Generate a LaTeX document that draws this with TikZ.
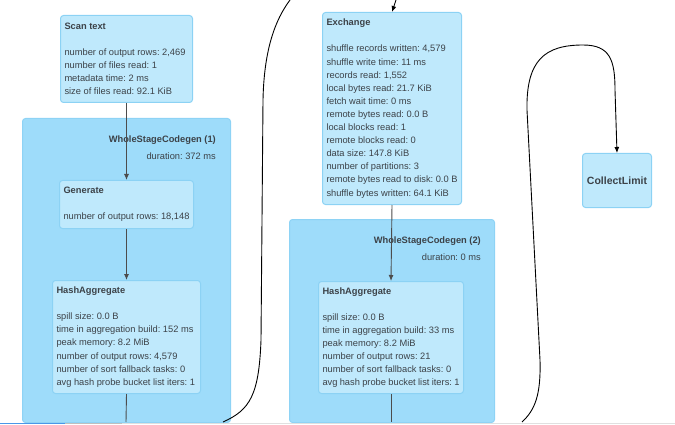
\documentclass[tikz,border=0pt]{standalone}
\usepackage{fontspec}
\setmainfont{Liberation Sans}
\frenchspacing
\usetikzlibrary{arrows.meta}
\definecolor{cgfill}{HTML}{9EDCFA}
\definecolor{cgline}{HTML}{8ED3F5}
\definecolor{opfill}{HTML}{BFE9FC}
\definecolor{opline}{HTML}{8CD2F4}
\definecolor{txt}{HTML}{3C4248}
\definecolor{scroll}{HTML}{4A97E8}
\tikzset{
  codegen/.style={draw=cgline, fill=cgfill, line width=1pt, rounded corners=3pt, anchor=north west, inner sep=0pt},
  opbox/.style={draw=opline, fill=opfill, line width=1pt, rounded corners=3pt, anchor=north west, align=flush left,
    inner xsep=4pt, inner ysep=0pt, text=txt, font=\fontsize{9.3}{13.1}\selectfont\frenchspacing},
  cglabel/.style={anchor=north east, align=flush right, inner sep=0pt, text=txt, font=\fontsize{9.3}{13.1}\selectfont\frenchspacing},
  flow/.style={draw=black!70, line width=0.9pt},
  curve/.style={draw=black, line width=0.9pt},
}
\begin{document}
\begin{tikzpicture}[x=1pt,y=-1pt,>={Latex[length=6pt,width=5pt]}]
    \useasboundingbox (0,0) rectangle (675,425);
    % stage boxes
    \node[codegen, minimum width=208pt, minimum height=304pt] (cg1) at (22,118) {};
    \node[codegen, minimum width=205pt, minimum height=203pt] (cg2) at (289,219) {};
    \node[cglabel] (cg1lab) at ([xshift=-15pt,yshift=-17.5pt]cg1.north east)
        {\textbf{WholeStageCodegen (1)}\\[4pt]duration: 372 ms};
    \node[cglabel] (cg2lab) at ([xshift=-14pt,yshift=-17.5pt]cg2.north east)
        {\textbf{WholeStageCodegen (2)}\\[4pt]duration: 0 ms};
    % operators
    \node[opbox, text width=124pt, minimum width=132pt, minimum height=87pt] (scan) at (60,15)
        {\textbf{Scan text}\\[13.1pt]
         number of output rows: 2,469\\
         number of files read: 1\\
         metadata time: 2 ms\\
         size of files read: 92.1 KiB};
    \node[opbox, text width=126pt, minimum width=134pt, minimum height=48pt] (gen) at (59,180)
        {\textbf{Generate}\\[13.1pt]
         number of output rows: 18,148};
    \node[opbox, text width=140pt, minimum width=148pt, minimum height=113pt] (hash1) at (52,280)
        {\textbf{HashAggregate}\\[13.1pt]
         spill size: 0.0 B\\
         time in aggregation build: 152 ms\\
         peak memory: 8.2 MiB\\
         number of output rows: 4,579\\
         number of sort fallback tasks: 0\\
         avg hash probe bucket list iters: 1};
    \node[opbox, text width=131pt, minimum width=139pt, minimum height=192pt] (exch) at (322,12)
        {\textbf{Exchange}\\[13.1pt]
         shuffle records written: 4,579\\
         shuffle write time: 11 ms\\
         records read: 1,552\\
         local bytes read: 21.7 KiB\\
         fetch wait time: 0 ms\\
         remote bytes read: 0.0 B\\
         local blocks read: 1\\
         remote blocks read: 0\\
         data size: 147.8 KiB\\
         number of partitions: 3\\
         remote bytes read to disk: 0.0 B\\
         shuffle bytes written: 64.1 KiB};
    \node[opbox, text width=137pt, minimum width=145pt, minimum height=112pt] (hash2) at (318,281)
        {\textbf{HashAggregate}\\[13.1pt]
         spill size: 0.0 B\\
         time in aggregation build: 33 ms\\
         peak memory: 8.2 MiB\\
         number of output rows: 21\\
         number of sort fallback tasks: 0\\
         avg hash probe bucket list iters: 1};
    \node[opbox, align=center, minimum width=69pt, minimum height=54pt, font=\fontsize{10.5}{12}\selectfont\bfseries] (cl) at (582,153) {CollectLimit};
    % loose ends
    \coordinate (out1) at (126,422);
    \coordinate (out2) at (391,422);
    \coordinate (in2) at (396,0);
    \coordinate (c1a) at (223,422);
    \coordinate (c1b) at (290,0);
    \coordinate (c2a) at (522,422);
    % edges
    \draw[flow,->] (scan.south) -- (gen.north);
    \draw[flow,->] (gen.south) -- (hash1.north);
    \draw[flow] (hash1.south) -- (out1);
    \draw[curve,->] (in2) -- (exch.north);
    \draw[flow,->] (exch.south) -- (hash2.north);
    \draw[flow] (hash2.south) -- (out2);
    \draw[curve] (c1a) .. controls (250,410) and (259,395) .. (261,340) -- (263,100)
        .. controls (264,50) and (275,20) .. (c1b);
    \draw[curve,->] (c2a) .. controls (535,410) and (541,395) .. (540,360) -- (527,110)
        .. controls (526,60) and (545,45) .. (583,45) .. controls (610,45) and (615,60) .. (615,90)
        -- (cl.north);
    % scroll bar
    \draw[black!12, line width=1.5pt] (0,423.5) -- (675,423.5);
    \draw[black!25, line width=1.5pt] (65,423.5) -- (122,423.5);
    \draw[scroll, line width=1.5pt] (0,423.5) -- (65,423.5);
\end{tikzpicture}
\end{document}
